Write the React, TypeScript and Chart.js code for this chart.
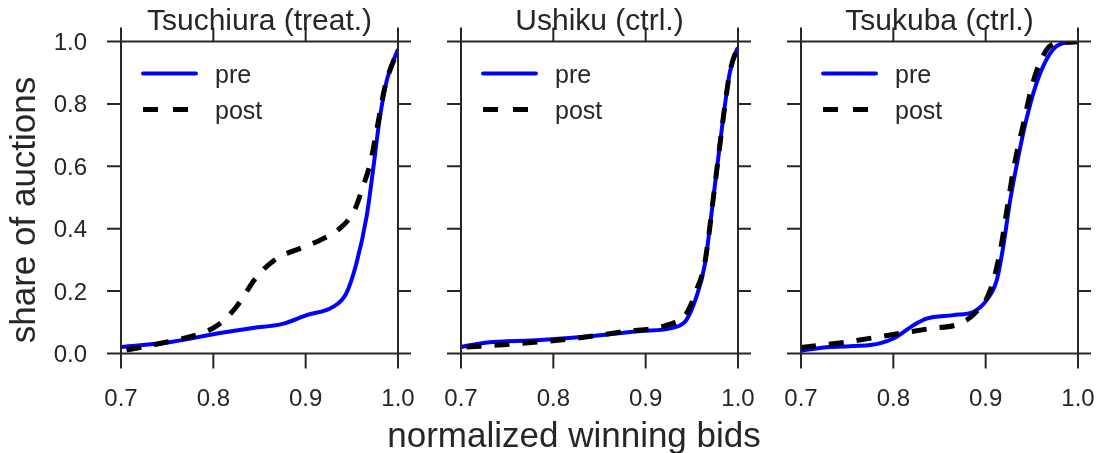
import React, { useEffect, useRef } from "react";
import { Chart, registerables } from "chart.js";

Chart.register(...registerables);

// ---------- data ----------
const TITLES = ["Tsuchiura (treat.)", "Ushiku (ctrl.)", "Tsukuba (ctrl.)"];
const SERIES_NAMES = ["pre", "post"];
const X_LABEL = "normalized winning bids";
const Y_LABEL = "share of auctions";
const X_TICKS = [0.7, 0.8, 0.9, 1.0];
const X_TICK_LABELS = ["0.7", "0.8", "0.9", "1.0"];
const Y_TICKS = [0, 0.2, 0.4, 0.6, 0.8, 1.0];
const Y_TICK_LABELS = ["0.0", "0.2", "0.4", "0.6", "0.8", "1.0"];

const TSUCHIURA_PRE_X = [0.7, 0.754, 0.804, 0.843, 0.874, 0.901, 0.93, 0.944, 0.955, 0.966, 0.973, 0.98, 0.988, 1.0];
const TSUCHIURA_PRE_Y = [0.021, 0.037, 0.064, 0.082, 0.094, 0.123, 0.15, 0.193, 0.289, 0.439, 0.588, 0.749, 0.877, 0.975];
const TSUCHIURA_POST_X = [0.706, 0.75, 0.786, 0.805, 0.825, 0.847, 0.869, 0.894, 0.916, 0.937, 0.953, 0.962, 0.97, 0.977, 0.986, 1.0];
const TSUCHIURA_POST_Y = [0.011, 0.037, 0.064, 0.091, 0.15, 0.246, 0.305, 0.337, 0.364, 0.401, 0.46, 0.535, 0.61, 0.717, 0.856, 0.975];

const USHIKU_PRE_X = [0.7, 0.724, 0.786, 0.843, 0.894, 0.93, 0.944, 0.955, 0.964, 0.975, 0.9859, 0.9913, 0.9986, 1.0];
const USHIKU_PRE_Y = [0.021, 0.034, 0.043, 0.056, 0.072, 0.083, 0.107, 0.182, 0.284, 0.54, 0.797, 0.903, 0.973, 0.98];
const USHIKU_POST_X = [0.706, 0.75, 0.822, 0.876, 0.923, 0.944, 0.955, 0.964, 0.975, 0.9859, 0.9913, 0.9986, 1.0];
const USHIKU_POST_Y = [0.021, 0.029, 0.048, 0.07, 0.091, 0.128, 0.203, 0.29, 0.54, 0.797, 0.903, 0.973, 0.98];

const TSUKUBA_PRE_X = [0.7, 0.731, 0.775, 0.8, 0.822, 0.836, 0.865, 0.887, 0.901, 0.912, 0.919, 0.926, 0.934, 0.944, 0.955, 0.97, 0.984, 1.0];
const TSUKUBA_PRE_Y = [0.009, 0.021, 0.027, 0.048, 0.091, 0.112, 0.123, 0.134, 0.171, 0.235, 0.342, 0.481, 0.61, 0.749, 0.866, 0.963, 0.995, 0.999];
const TSUKUBA_POST_X = [0.7, 0.75, 0.8, 0.84, 0.872, 0.89, 0.905, 0.916, 0.923, 0.93, 0.941, 0.952, 0.966, 0.977, 1.0];
const TSUKUBA_POST_Y = [0.019, 0.037, 0.061, 0.08, 0.096, 0.134, 0.203, 0.332, 0.46, 0.588, 0.738, 0.877, 0.973, 0.995, 0.999];

const PANEL_DATA = [
  [TSUCHIURA_PRE_X, TSUCHIURA_PRE_Y, TSUCHIURA_POST_X, TSUCHIURA_POST_Y],
  [USHIKU_PRE_X, USHIKU_PRE_Y, USHIKU_POST_X, USHIKU_POST_Y],
  [TSUKUBA_PRE_X, TSUKUBA_PRE_Y, TSUKUBA_POST_X, TSUKUBA_POST_Y],
];

// ---------- layout / style ----------
const W = 1100;
const H = 453;
const PANEL_LEFTS = [121, 461, 801];
const PANEL_WIDTH = 277;
const PANEL_TOP = 41.5;
const PANEL_BOTTOM = 353.5;
const TEXT = "#262626";
const FONT = '"Liberation Sans", Arial, Helvetica, sans-serif';

const zip = (xs: number[], ys: number[]) => xs.map((x, i) => ({ x, y: ys[i] }));

function makePlugin(idx: number) {
  return {
    id: "decor" + idx,
    afterDatasetsDraw(chart: any) {
      const { ctx, chartArea: a } = chart;
      const xs = chart.scales.x;
      const ys = chart.scales.y;
      ctx.save();
      // frame
      ctx.strokeStyle = TEXT;
      ctx.lineWidth = 2;
      ctx.setLineDash([]);
      ctx.strokeRect(a.left, a.top, a.right - a.left, a.bottom - a.top);
      // ticks
      ctx.beginPath();
      X_TICKS.forEach((v) => {
        const px = xs.getPixelForValue(v);
        ctx.moveTo(px, a.bottom);
        ctx.lineTo(px, a.bottom + 15);
        ctx.moveTo(px, a.top);
        ctx.lineTo(px, a.top - 14);
      });
      Y_TICKS.forEach((v) => {
        const py = ys.getPixelForValue(v);
        ctx.moveTo(a.left, py);
        ctx.lineTo(a.left - 14, py);
        ctx.moveTo(a.right, py);
        ctx.lineTo(a.right + 13, py);
      });
      ctx.stroke();
      // tick labels
      ctx.fillStyle = TEXT;
      ctx.font = "24px " + FONT;
      ctx.textAlign = "center";
      ctx.textBaseline = "alphabetic";
      X_TICKS.forEach((v, i) => {
        ctx.fillText(X_TICK_LABELS[i], xs.getPixelForValue(v), a.bottom + 52.5);
      });
      if (idx === 0) {
        ctx.textAlign = "right";
        Y_TICKS.forEach((v, i) => {
          ctx.fillText(Y_TICK_LABELS[i], a.left - 34, ys.getPixelForValue(v) + 8.5);
        });
      }
      // title
      ctx.font = "30px " + FONT;
      ctx.textAlign = "center";
      ctx.fillText(TITLES[idx], (a.left + a.right) / 2, 29.5);
      // legend
      const ly1 = a.top + 32;
      const ly2 = a.top + 68;
      ctx.lineCap = "round";
      ctx.strokeStyle = "#0000ff";
      ctx.lineWidth = 3.8;
      ctx.beginPath();
      ctx.moveTo(a.left + 22, ly1);
      ctx.lineTo(a.left + 75, ly1);
      ctx.stroke();
      ctx.lineCap = "butt";
      ctx.strokeStyle = "#000000";
      ctx.lineWidth = 5;
      ctx.setLineDash([15, 15]);
      ctx.beginPath();
      ctx.moveTo(a.left + 22, ly2);
      ctx.lineTo(a.left + 75, ly2);
      ctx.stroke();
      ctx.setLineDash([]);
      ctx.fillStyle = TEXT;
      ctx.font = "25px " + FONT;
      ctx.textAlign = "left";
      ctx.fillText(SERIES_NAMES[0], a.left + 94, ly1 + 9);
      ctx.fillText(SERIES_NAMES[1], a.left + 94, ly2 + 9);
      // shared axis labels
      ctx.font = "35px " + FONT;
      if (idx === 0) {
        ctx.save();
        ctx.translate(35, 210);
        ctx.rotate(-Math.PI / 2);
        ctx.textAlign = "center";
        ctx.fillText(Y_LABEL, 0, 0);
        ctx.restore();
      }
      if (idx === 1) {
        ctx.textAlign = "center";
        ctx.fillText(X_LABEL, 574, 446.5);
      }
      ctx.restore();
    },
  };
}

function Panel({ idx }: { idx: number }) {
  const ref = useRef<HTMLCanvasElement | null>(null);
  useEffect(() => {
    if (!ref.current) return;
    const [preX, preY, postX, postY] = PANEL_DATA[idx];
    const left = PANEL_LEFTS[idx];
    const chart = new Chart(ref.current, {
      type: "line",
      data: {
        datasets: [
          {
            label: SERIES_NAMES[0],
            data: zip(preX, preY),
            borderColor: "#0000ff",
            borderWidth: 4,
            pointRadius: 0,
            cubicInterpolationMode: "monotone",
            fill: false,
            order: 1,
          },
          {
            label: SERIES_NAMES[1],
            data: zip(postX, postY),
            borderColor: "#000000",
            borderWidth: 5,
            borderDash: [15, 13],
            pointRadius: 0,
            cubicInterpolationMode: "monotone",
            fill: false,
            order: 0,
          },
        ],
      },
      options: {
        responsive: false,
        maintainAspectRatio: false,
        animation: false,
        events: [],
        layout: {
          padding: {
            left: left,
            right: W - left - PANEL_WIDTH,
            top: PANEL_TOP,
            bottom: H - PANEL_BOTTOM,
          },
        },
        plugins: { legend: { display: false }, tooltip: { enabled: false }, title: { display: false } },
        scales: {
          x: { type: "linear", min: 0.7, max: 1.0, display: false },
          y: { type: "linear", min: 0, max: 1, display: false },
        },
      } as any,
      plugins: [makePlugin(idx)],
    } as any);
    return () => chart.destroy();
  }, [idx]);
  return (
    <canvas
      ref={ref}
      width={W}
      height={H}
      style={{ position: "absolute", left: 0, top: 0, width: W, height: H }}
    />
  );
}

export default function App() {
  return (
    <div style={{ position: "absolute", left: 0, top: 0, width: W, height: H, background: "#ffffff" }}>
      <Panel idx={0} />
      <Panel idx={1} />
      <Panel idx={2} />
    </div>
  );
}
